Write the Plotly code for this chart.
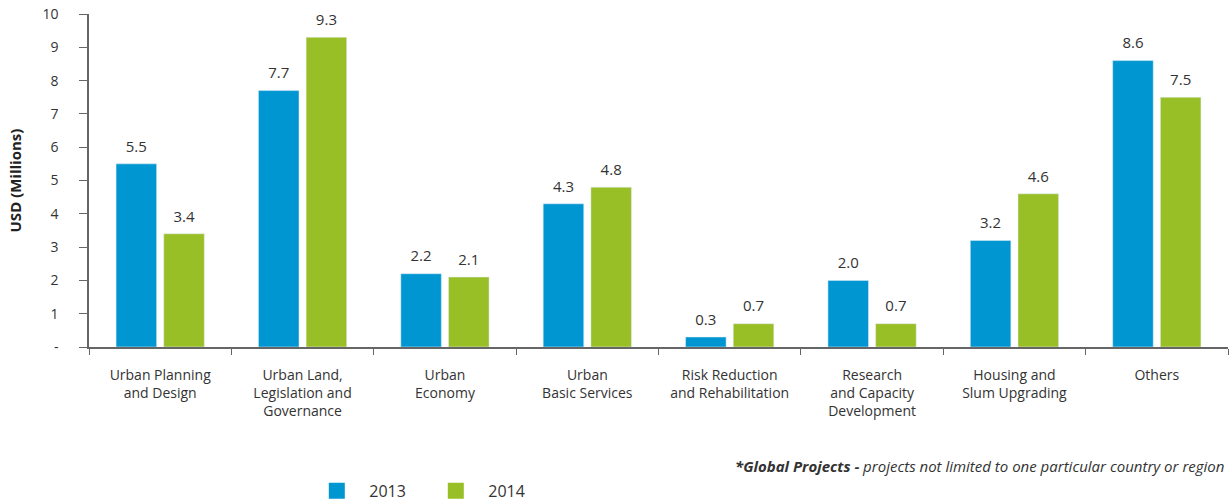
import plotly.graph_objects as go

categories = ["Urban Planning<br>and Design", "Urban Land,<br>Legislation and<br>Governance",
              "Urban<br>Economy", "Urban<br>Basic Services", "Risk Reduction<br>and Rehabilitation",
              "Research<br>and Capacity<br>Development", "Housing and<br>Slum Upgrading", "Others"]
values_2013 = [5.5, 7.7, 2.2, 4.3, 0.3, 2.0, 3.2, 8.6]
values_2014 = [3.4, 9.3, 2.1, 4.8, 0.7, 0.7, 4.6, 7.5]
series_names = ["2013", "2014"]
ytick_vals = [0, 1, 2, 3, 4, 5, 6, 7, 8, 9, 10]
ytick_text = ["-", "1", "2", "3", "4", "5", "6", "7", "8", "9", "10"]

FONT = "Open Sans"
TXT = "#333333"
COLORS = ["#0096D2", "#98BF26"]

fig = go.Figure()
for name, vals, col in zip(series_names, [values_2013, values_2014], COLORS):
    fig.add_trace(go.Bar(name=name, x=categories, y=vals, marker_color=col,
                         offsetgroup=name, showlegend=False))
    fig.add_trace(go.Scatter(x=categories, y=vals, mode="markers+text", offsetgroup=name,
                             text=[f"{v:.1f}" for v in vals], textposition="top center",
                             marker=dict(size=12, opacity=0), cliponaxis=False,
                             textfont=dict(size=15, color=TXT, family=FONT),
                             showlegend=False, hoverinfo="skip"))
    fig.add_trace(go.Scatter(name="\u00a0\u00a0\u00a0" + name, x=[None], y=[None], mode="markers",
                             marker=dict(symbol="square", size=18, color=col),
                             showlegend=True))

fig.update_layout(
    width=1229, height=502,
    margin=dict(l=89, r=1, t=14, b=155, autoexpand=False),
    paper_bgcolor="white", plot_bgcolor="white",
    font=dict(family=FONT, size=14, color=TXT),
    barmode="group", bargap=0.33, bargroupgap=0.15,
    scattermode="group", scattergap=0.33,
    showlegend=True,
    legend=dict(orientation="h", x=0.2, y=-0.432, xanchor="left", yanchor="middle",
                font=dict(size=16, color=TXT), entrywidth=74,
                traceorder="normal"),
    xaxis=dict(showline=True, linecolor="#666666", linewidth=1.5, ticks="outside",
               tickson="boundaries", ticklen=6, tickcolor="#666666", automargin=False,
               ticklabelstandoff=14, tickfont=dict(size=14, color=TXT)),
    yaxis=dict(range=[0, 10], tickvals=ytick_vals, ticktext=ytick_text, automargin=False,
               showline=True, linecolor="#666666", linewidth=1.5, ticks="outside",
               ticklen=8, tickcolor="#666666", showgrid=False, zeroline=False,
               ticklabelstandoff=18, tickfont=dict(size=14, color=TXT)),
    annotations=[
        dict(text="<b>USD (Millions)</b>", xref="paper", yref="paper", x=-0.065, y=0.5,
             xanchor="center", yanchor="middle", textangle=-90, showarrow=False,
             font=dict(size=15, color="#222222")),
        dict(text="<b><i>*Global Projects - </i></b><i>projects not limited to one particular country or region</i>",
             xref="paper", yref="paper", x=0.9985, y=-0.357, xanchor="right", yanchor="middle",
             showarrow=False, font=dict(size=15, color=TXT))]
)

fig.write_html("out.html", config={"displayModeBar": False},
               post_script="document.body.style.margin='0';document.body.style.overflow='hidden';")
